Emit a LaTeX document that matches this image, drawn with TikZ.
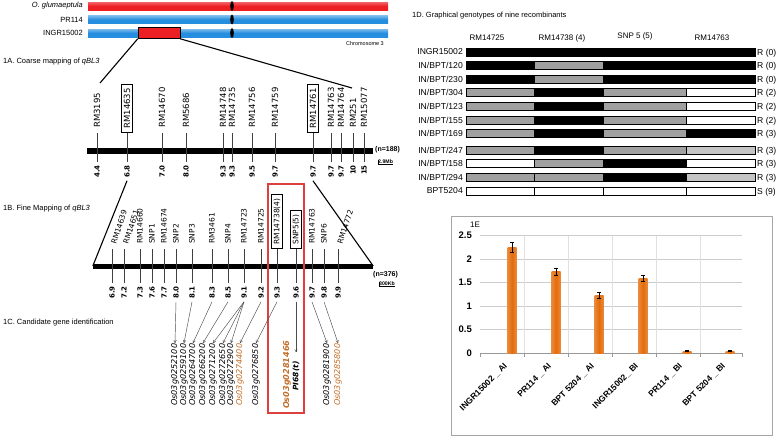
\documentclass[tikz,border=0pt]{standalone}
\usepackage{fontspec}
\setmainfont{Liberation Sans}
\newfontfamily\vfont{DejaVu Sans}
\usetikzlibrary{arrows.meta, positioning, calc}
\definecolor{chrred}{RGB}{236,32,36}
\definecolor{chrblue}{RGB}{38,142,222}
\definecolor{segG}{RGB}{160,160,160}
\definecolor{segL}{RGB}{196,196,196}
\definecolor{barorg}{RGB}{228,108,10}
\definecolor{candorg}{RGB}{196,110,40}
\definecolor{boxred}{RGB}{222,64,64}
\tikzset{
  chrlab/.style={anchor=east, inner sep=0pt, font=\fontsize{7.5}{8}\selectfont},
  ttl/.style={anchor=west, inner sep=0pt, font=\fontsize{7.5}{9}\selectfont},
  mlab/.style={rotate=90, anchor=west, inner xsep=5pt, inner ysep=0pt,
               font=\vfont\fontsize{8.5}{9}\selectfont},
  mbox/.style={mlab, draw=black, thick, inner xsep=4pt, inner ysep=2pt},
  mslant/.style={mlab, rotate=-18, font=\vfont\itshape\fontsize{7}{8}\selectfont},
  mpos/.style={rotate=90, anchor=east, inner xsep=3pt, inner ysep=0pt,
               font=\vfont\bfseries\fontsize{7}{8}\selectfont},
  gene/.style={rotate=90, anchor=east, inner sep=0.5pt,
               font=\vfont\itshape\fontsize{8.1}{9}\selectfont},
  tick/.style={line width=0.5pt, black!75},
  zoomln/.style={line width=1.1pt, black},
  garr/.style={-{To[length=3pt,width=3pt]}, line width=0.45pt, black!70},
  rowlab/.style={anchor=east, inner sep=0pt, font=\fontsize{8.6}{9}\selectfont},
  reslab/.style={anchor=west, inner sep=0pt, font=\fontsize{8.6}{9}\selectfont},
  colhd/.style={inner sep=0pt, font=\fontsize{8}{9}\selectfont},
  seg/.style={draw=black, line width=0.7pt},
  axlab/.style={anchor=east, inner sep=0pt, font=\bfseries\fontsize{9.5}{10}\selectfont},
  catlab/.style={rotate=45, anchor=east, inner sep=0pt, font=\bfseries\fontsize{8.5}{9}\selectfont},
}
\begin{document}
\begin{tikzpicture}[x=1pt, y=-1pt]
  \useasboundingbox (0,0) rectangle (778,437);

  % chromosome 3 of the three parents
  \node[chrlab, font=\itshape\fontsize{7.5}{8}\selectfont] (lgl) at (83,6) {O. glumaeptula};
  \node[chrlab] (lpr) at (83,19.5) {PR114};
  \node[chrlab] (lin) at (83,33) {INGR15002};
  \shade[top color=chrred!70, bottom color=chrred, middle color=chrred] (88,2) rectangle (388,10);
  \shade[top color=chrblue!60, bottom color=chrblue, middle color=chrblue] (88,15.5) rectangle (388,23.5);
  \shade[top color=chrblue!60, bottom color=chrblue, middle color=chrblue] (88,29) rectangle (388,37);
  \node[draw=black, line width=0.6pt, fill=chrred, minimum width=42pt, minimum height=11pt,
        inner sep=0pt] (seg) at (159,33) {};
  \fill[black] (232,6) ellipse (1.8 and 5);
  \fill[black] (232,19.5) ellipse (1.8 and 5);
  \fill[black] (232,33) ellipse (1.8 and 5);
  \node[anchor=west, inner sep=0pt, font=\fontsize{5.5}{6}\selectfont] (chr3) at (346,44) {Chromosome 3};
  \coordinate (zl) at (100,83);
  \coordinate (zr) at (352,88);
  \draw[zoomln] (seg.south west)--(zl);
  \draw[zoomln] (seg.south east)--(zr);

  % 1A coarse map
  \node[ttl] (ta) at (3,62) {1A. Coarse mapping of \textit{qBL3}};
  \node[fill=black, minimum width=286pt, minimum height=5.5pt, inner sep=0pt] (barA) at (230,151) {};
  \foreach \xm/\nm/\ps/\st [count=\i] in {97/RM3195/4.4/mlab, 127/RM14635/6.8/mbox,
      162/RM14670/7.0/mlab, 186/RM5686/8.0/mlab, 223/RM14748/9.3/mlab, 232/RM14735/9.3/mlab,
      252/RM14756/9.5/mlab, 275/RM14759/9.7/mlab, 313/RM14761/9.7/mbox, 331/RM14763/9.7/mlab,
      341/RM14764/9.7/mlab, 353/RM251/10/mlab, 364/RM15077/15/mlab}{
    \node[\st] (mA\i) at (\xm,133) {\nm};
    \node[mpos] (nA\i) at (\xm,162) {\ps};
    \draw[tick] (mA\i.west)--(nA\i.east);
  }
  \node[anchor=west, inner sep=0pt, font=\bfseries\fontsize{7}{8}\selectfont] (nA) at (375,150) {(n=188)};
  \node[anchor=west, inner sep=0pt, font=\bfseries\fontsize{5.2}{6}\selectfont] (sA) at (378,162) {2.9Mb};
  \draw[line width=0.7pt] (sA.north west)--(sA.south west)--(sA.south east);

  % 1B fine map
  \node[ttl] (tb) at (3,209) {1B. Fine Mapping of \textit{qBL3}};
  \node[fill=black, minimum width=280pt, minimum height=5pt, inner sep=0pt] (barB) at (233,266) {};
  \draw[zoomln] (nA2.west)--(barB.west);
  \draw[zoomln] (nA9.west)--(barB.east);
  \node[draw=boxred, line width=1.1pt, minimum width=36pt, minimum height=229pt, inner sep=0pt]
       (redbox) at (286,298.5) {};
  \foreach \xm/\nm/\ps/\st [count=\i] in {112/RM14639/6.9/mslant, 124/RM14651/7.2/mslant,
      140/RM14660/7.3/mlab, 152/SNP1/7.6/mlab, 164/RM14674/7.7/mlab, 176/SNP2/8.0/mlab,
      192/SNP3/8.1/mlab, 212/RM3461/8.3/mlab, 228/SNP4/8.5/mlab, 244/RM14723/9.1/mlab,
      261/RM14725/9.2/mlab, 277/RM14738(4)/9.3/mbox, 296/SNP5(5)/9.6/mbox, 312/RM14763/9.7/mlab,
      324/SNP6/9.8/mlab, 338/RM14772/9.9/mslant}{
    \node[\st, font=\vfont\fontsize{7.5}{8}\selectfont] (mB\i) at (\xm,249) {\nm};
    \node[mpos] (nB\i) at (\xm,283) {\ps};
    \draw[tick] (mB\i.west)--(nB\i.east);
  }
  \node[anchor=west, inner sep=0pt, font=\bfseries\fontsize{7}{8}\selectfont] (nB) at (373,275) {(n=376)};
  \node[anchor=west, inner sep=0pt, font=\bfseries\fontsize{5.2}{6}\selectfont] (sB) at (379,284) {300Kb};
  \draw[line width=0.7pt] (sB.north west)--(sB.south west)--(sB.south east);

  % 1C candidate genes
  \node[ttl] (tc) at (3,323) {1C. Candidate gene identification};
  \node[gene] (g1) at (175,343) {Os03g0252100};
  \node[gene] (g2) at (184,343) {Os03g0259100};
  \node[gene] (g3) at (193,343) {Os03g0264700};
  \node[gene] (g4) at (203,343) {Os03g0266200};
  \node[gene] (g5) at (213,343) {Os03g0271200};
  \node[gene] (g6) at (223,343) {Os03g0272650};
  \node[gene] (g7) at (231,343) {Os03g0272900};
  \node[gene, text=candorg] (g8) at (240,343) {Os03g0274400};
  \node[gene] (g9) at (256,343) {Os03g0276850};
  \node[gene, text=candorg, font=\vfont\bfseries\itshape\fontsize{8.1}{9}\selectfont] (g10) at (287,340) {Os03g0281466};
  \node[rotate=90, inner sep=0pt, font=\vfont\bfseries\itshape\fontsize{7.5}{8}\selectfont] (pi) at (296,376) {PI68(t)};
  \node[gene] (g11) at (327,343) {Os03g0281900};
  \node[gene, text=candorg] (g12) at (338,343) {Os03g0285800};
  \draw[garr] (nB6.west)--(g1.east);
  \draw[garr] (nB7.west)--(g2.east);
  \draw[garr] (nB8.west)--(g3.east);
  \draw[garr] (nB9.west)--(g4.east);
  \draw[garr] (nB10.west)--(g5.east);
  \draw[garr] (nB10.west)--(g6.east);
  \draw[garr] (nB10.west)--(g7.east);
  \draw[garr] (nB11.west)--(g8.east);
  \draw[garr] (nB12.west)--(g9.east);
  \draw[garr, shorten >=9pt] (nB13.west)--(pi.east);
  \draw[garr] (nB14.west)--(g11.east);
  \draw[garr] (nB15.west)--(g12.east);

  % 1D graphical genotypes
  \node[ttl] (td) at (412,16) {1D. Graphical genotypes of nine recombinants};
  \node[colhd] (h1) at (487,38) {RM14725};
  \node[colhd] (h2) at (562,38) {RM14738 (4)};
  \node[colhd] (h3) at (635,36) {SNP 5 (5)};
  \node[colhd] (h4) at (712,38) {RM14763};
  \foreach \rn/\ry/\ca/\cb/\cc/\cd/\rs [count=\r] in {
      INGR15002/52/black/black/black/black/R (0),
      {IN/BPT/120}/65.5/black/segG/black/black/R (0),
      {IN/BPT/230}/79/black/segG/black/black/R (0),
      {IN/BPT/304}/92.5/segG/black/segG/white/R (2),
      {IN/BPT/123}/106/segG/black/segG/white/R (2),
      {IN/BPT/155}/120/segG/black/segG/white/R (2),
      {IN/BPT/169}/133.5/segG/black/segG/black/R (3),
      {IN/BPT/247}/150.5/segG/black/segG/segL/R (3),
      {IN/BPT/158}/163.5/white/segG/black/white/R (3),
      {IN/BPT/294}/177/segG/segG/black/segL/R (3),
      BPT5204/191/white/white/white/white/S (9)}{
    \node[rowlab] (row\r) at (463,\ry) {\rn};
    \draw[seg, fill=\ca] (466,\ry-4) rectangle (534,\ry+4);
    \draw[seg, fill=\cb] (534,\ry-4) rectangle (603,\ry+4);
    \draw[seg, fill=\cc] (603,\ry-4) rectangle (686,\ry+4);
    \draw[seg, fill=\cd] (686,\ry-4) rectangle (755,\ry+4);
    \node[reslab] (res\r) at (757,\ry+1) {\rs};
  }

  % 1E expression chart
  \draw[black!35, line width=0.6pt] (451,216) rectangle (772,435);
  \node[anchor=west, inner sep=0pt, font=\fontsize{8}{9}\selectfont] (te) at (470,225) {1E};
  \foreach \v/\vl in {0/0, 0.5/0.5, 1/1, 1.5/1.5, 2/2, 2.5/2.5}{
    \draw[black!20, line width=0.6pt] (480,{353-47*\v})--(742,{353-47*\v});
    \node[axlab] at (472,{353-47*\v}) {\vl};
  }
  \foreach \xg in {524,568,612,656,700}{
    \draw[black!12, line width=0.5pt] (\xg,236)--(\xg,353);
  }
  \draw[black!40, line width=0.6pt] (480,353)--(742,353);
  \foreach \xg in {480,524,568,612,656,700,742}{
    \draw[black!40, line width=0.6pt] (\xg,353)--(\xg,357);
  }
  \foreach \xb/\val/\err/\lab [count=\k] in {512/2.25/0.1/{INGR15002 \_ AI},
      556/1.73/0.08/{PR114 \_ AI}, 599/1.23/0.06/{BPT 5204 \_ AI},
      643/1.59/0.07/{INGR15002\_ BI}, 687/0.04/0.01/{PR114 \_ BI}, 730/0.04/0.01/{BPT 5204 \_ BI}}{
    \shade[left color=barorg!80, right color=barorg!80, middle color=barorg]
          (\xb-4.5,353) rectangle (\xb+4.5,{353-47*\val});
    \draw[line width=0.6pt] (\xb,{353-47*(\val+\err)})--(\xb,{353-47*(\val-\err)});
    \draw[line width=0.6pt] (\xb-2,{353-47*(\val+\err)})--(\xb+2,{353-47*(\val+\err)});
    \draw[line width=0.6pt] (\xb-2,{353-47*(\val-\err)})--(\xb+2,{353-47*(\val-\err)});
    \node[catlab] (cat\k) at (\xb-6,365) {\lab};
  }
\end{tikzpicture}
\end{document}
